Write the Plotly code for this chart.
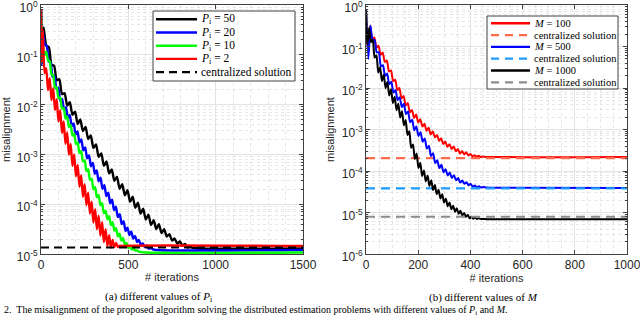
import plotly.graph_objects as go

# ---------------- data (a): different values of P_i ----------------
# iterations and log10(misalignment) read at successive peaks/troughs
p50_iter = [0, 5, 15, 30, 45, 60, 75, 90, 105, 120, 135, 150, 165, 180, 195, 210, 225, 240, 255, 270,
            285, 300, 315, 330, 345, 360, 375, 390, 405, 420, 435, 450, 465, 480, 495, 510, 525, 540,
            555, 570, 585, 600, 615, 630, 645, 660, 675, 690, 705, 720, 735, 750, 765, 780, 795, 810,
            825, 840, 855, 870, 885, 900, 1500]
p50_log = [-0.1, -1.0, -0.45, -0.81, -0.845, -1.20, -1.22, -1.515, -1.49, -1.79, -1.77, -2.02, -1.95,
           -2.205, -2.14, -2.39, -2.30, -2.53, -2.45, -2.69, -2.62, -2.87, -2.80, -3.05, -2.98, -3.23,
           -3.14, -3.38, -3.30, -3.53, -3.45, -3.69, -3.60, -3.82, -3.72, -3.95, -3.85, -4.07, -3.97,
           -4.19, -4.09, -4.31, -4.21, -4.42, -4.32, -4.50, -4.40, -4.58, -4.50, -4.65, -4.60, -4.73,
           -4.69, -4.79, -4.75, -4.83, -4.80, -4.87, -4.85, -4.88, -4.88, -4.89, -4.89]

p20_iter = [0, 4, 11, 22, 33, 44, 55, 66, 77, 88, 99, 110, 121, 132, 143, 154, 165, 176, 187, 198, 209,
            220, 231, 242, 253, 264, 275, 286, 297, 308, 319, 330, 341, 352, 363, 374, 385, 396, 407,
            418, 429, 440, 451, 462, 473, 484, 495, 506, 517, 528, 539, 550, 561, 572, 583, 594, 605,
            616, 627, 638, 660, 1500]
p20_log = [-0.1, -1.2, -0.55, -0.80, -0.825, -1.13, -1.155, -1.44, -1.42, -1.68, -1.66, -1.92, -1.89,
           -2.11, -2.05, -2.27, -2.21, -2.43, -2.38, -2.60, -2.54, -2.76, -2.70, -2.92, -2.86, -3.08,
           -3.02, -3.24, -3.17, -3.39, -3.32, -3.54, -3.47, -3.69, -3.62, -3.835, -3.77, -3.98, -3.91,
           -4.12, -4.05, -4.26, -4.20, -4.40, -4.34, -4.54, -4.47, -4.62, -4.55, -4.69, -4.64, -4.76,
           -4.72, -4.82, -4.79, -4.86, -4.83, -4.89, -4.88, -4.90, -4.92, -4.92]

p10_iter = [0, 4, 10, 20, 30, 40, 50, 60, 70, 80, 90, 100, 110, 120, 130, 140, 150, 160, 170, 180, 190,
            200, 210, 220, 230, 240, 250, 260, 270, 280, 290, 300, 310, 320, 330, 340, 350, 360, 370,
            380, 390, 400, 410, 420, 430, 440, 450, 460, 470, 480, 490, 500, 510, 520, 530, 540, 550,
            560, 600, 1500]
p10_log = [-0.1, -1.15, -0.8, -1.01, -0.94, -1.11, -1.13, -1.39, -1.41, -1.66, -1.65, -1.87, -1.86,
           -2.08, -2.07, -2.28, -2.24, -2.45, -2.41, -2.62, -2.58, -2.79, -2.76, -2.97, -2.93, -3.14,
           -3.12, -3.33, -3.30, -3.51, -3.49, -3.70, -3.66, -3.86, -3.82, -4.02, -3.98, -4.18, -4.13,
           -4.30, -4.24, -4.42, -4.36, -4.53, -4.48, -4.65, -4.59, -4.73, -4.68, -4.80, -4.78, -4.88,
           -4.85, -4.91, -4.89, -4.93, -4.93, -4.95, -4.97, -4.97]

p2_iter = [0, 3, 10, 20, 30, 40, 50, 60, 70, 80, 90, 100, 110, 120, 130, 140, 150, 160, 170, 180, 190,
           200, 210, 220, 230, 240, 250, 260, 270, 280, 290, 300, 310, 320, 330, 340, 350, 360, 370,
           380, 390, 400, 410, 420, 430, 440, 450, 1500]
p2_log = [-0.1, -1.15, -0.5, -1.37, -1.27, -1.71, -1.47, -1.91, -1.67, -2.11, -1.89, -2.34, -2.11,
          -2.57, -2.34, -2.79, -2.56, -3.01, -2.79, -3.23, -3.00, -3.44, -3.21, -3.65, -3.42, -3.85,
          -3.60, -4.02, -3.77, -4.19, -3.95, -4.37, -4.10, -4.50, -4.23, -4.63, -4.36, -4.76, -4.50,
          -4.84, -4.62, -4.87, -4.72, -4.86, -4.78, -4.86, -4.84, -4.84]

central_a_iter = [0, 1500]
central_a_val = [1.35e-5, 1.35e-5]

# ---------------- data (b): different values of M ----------------
m100_iter = [0, 5, 16, 24, 32, 40, 48, 56, 64, 72, 80, 88, 96, 104, 112, 120, 128, 136, 144, 152, 160,
             168, 176, 184, 192, 200, 208, 216, 224, 232, 240, 248, 256, 264, 272, 280, 288, 296, 304,
             312, 320, 328, 336, 344, 352, 360, 368, 376, 384, 392, 400, 408, 416, 424, 432, 440, 448,
             460, 1000]
m100_log = [-0.1, -1.0, -0.5, -0.82, -0.78, -1.03, -0.98, -1.20, -1.145, -1.37, -1.34, -1.60, -1.58,
            -1.84, -1.80, -2.05, -2.00, -2.25, -2.19, -2.42, -2.36, -2.585, -2.53, -2.72, -2.64, -2.83,
            -2.75, -2.93, -2.86, -3.03, -2.96, -3.12, -3.045, -3.19, -3.13, -3.27, -3.21, -3.35, -3.29,
            -3.42, -3.355, -3.47, -3.41, -3.525, -3.47, -3.58, -3.52, -3.60, -3.55, -3.625, -3.59,
            -3.645, -3.62, -3.655, -3.635, -3.66, -3.65, -3.66, -3.66]

m500_iter = [0, 9, 17, 25, 33, 41, 49, 57, 65, 73, 81, 89, 97, 105, 113, 121, 129, 137, 145, 153, 161,
             169, 177, 185, 193, 201, 209, 217, 225, 233, 241, 249, 257, 265, 273, 281, 289, 297, 305,
             313, 321, 329, 337, 345, 353, 361, 369, 377, 385, 393, 401, 409, 417, 425, 433, 441, 449,
             460, 500, 1000]
m500_log = [-0.1, -1.3, -0.5, -0.83, -0.84, -1.14, -1.14, -1.48, -1.45, -1.71, -1.65, -1.91, -1.85,
            -2.11, -2.05, -2.29, -2.22, -2.46, -2.38, -2.625, -2.565, -2.825, -2.765, -3.02, -2.93,
            -3.155, -3.065, -3.295, -3.215, -3.46, -3.39, -3.64, -3.57, -3.81, -3.74, -3.93, -3.85,
            -4.03, -3.955, -4.11, -4.035, -4.17, -4.10, -4.225, -4.17, -4.28, -4.23, -4.31, -4.27,
            -4.345, -4.31, -4.375, -4.35, -4.39, -4.37, -4.40, -4.385, -4.40, -4.405, -4.41]

m1000_iter = [0, 5, 12, 19, 26, 33, 40, 47, 54, 61, 68, 75, 82, 89, 96, 103, 110, 117, 124, 131, 138,
              145, 152, 159, 166, 173, 180, 187, 194, 201, 208, 215, 222, 229, 236, 243, 250, 257, 264,
              271, 278, 285, 292, 299, 306, 313, 320, 327, 334, 341, 348, 355, 362, 369, 376, 383, 390,
              397, 404, 411, 418, 425, 432, 440, 460, 1000]
m1000_log = [-0.1, -0.95, -0.55, -0.90, -0.84, -1.265, -1.21, -1.63, -1.50, -1.83, -1.68, -2.0, -1.855,
             -2.18, -2.03, -2.36, -2.21, -2.535, -2.38, -2.71, -2.56, -2.90, -2.77, -3.13, -3.04, -3.44,
             -3.36, -3.71, -3.58, -3.93, -3.80, -4.12, -3.99, -4.25, -4.11, -4.36, -4.22, -4.46, -4.34,
             -4.56, -4.45, -4.66, -4.56, -4.76, -4.67, -4.85, -4.76, -4.92, -4.84, -4.98, -4.90, -5.03,
             -4.96, -5.07, -5.01, -5.105, -5.06, -5.14, -5.10, -5.15, -5.12, -5.155, -5.14, -5.155,
             -5.16, -5.16]

central_b_iter = [0, 1000]
central_m100 = [2.05e-4, 2.05e-4]
central_m500 = [3.8e-5, 3.8e-5]
central_m1000 = [7.9e-6, 7.9e-6]

ytick_a = [1e-5, 1e-4, 1e-3, 1e-2, 1e-1, 1]
ytick_a_text = ["10<sup>-5</sup>", "10<sup>-4</sup>", "10<sup>-3</sup>", "10<sup>-2</sup>",
                "10<sup>-1</sup>", "10<sup>0</sup>"]
ytick_b = [1e-6, 1e-5, 1e-4, 1e-3, 1e-2, 1e-1, 1]
ytick_b_text = ["10<sup>-6</sup>"] + ytick_a_text

# legend entries (label, colour, dash)
legend_a_names = ["<i>P</i><sub>i</sub> = 50", "<i>P</i><sub>i</sub> = 20", "<i>P</i><sub>i</sub> = 10",
                  "<i>P</i><sub>i</sub> = 2", "centralized solution"]
legend_a_colors = ["#000000", "#0000FF", "#00FF00", "#FF0000", "#000000"]
legend_a_dash = ["solid", "solid", "solid", "solid", "dash"]
legend_b_names = ["<i>M</i> = 100", "centralized solution", "<i>M</i> = 500", "centralized solution",
                  "<i>M</i> = 1000", "centralized solution"]
legend_b_colors = ["#FF0000", "#FF6A4D", "#0000FF", "#1E9BFF", "#000000", "#8C8C8C"]
legend_b_dash = ["solid", "dash", "solid", "dash", "solid", "dash"]


def to_val(logs):
    return [10 ** v for v in logs]


fig = go.Figure()

lw_a = 2.4
series_a = [(p50_iter, p50_log, "#000000", 0.6), (p20_iter, p20_log, "#0000FF", 0.6),
            (p10_iter, p10_log, "#00FF00", 0.6), (p2_iter, p2_log, "#FF0000", 0.4)]
for (xs, ls, col, sm), nm in zip(series_a, legend_a_names):
    fig.add_trace(go.Scatter(x=xs, y=to_val(ls), mode="lines", name=nm, showlegend=False,
                             line=dict(color=col, width=lw_a, shape="spline", smoothing=sm),
                             xaxis="x", yaxis="y"))
fig.add_trace(go.Scatter(x=central_a_iter, y=central_a_val, mode="lines", name=legend_a_names[4], showlegend=False,
                         line=dict(color="#000000", width=2.2, dash="8px,5px"), xaxis="x", yaxis="y"))

lw_b = 2.0
series_b = [(m100_iter, to_val(m100_log), None), (central_b_iter, central_m100, "9px,6px"),
            (m500_iter, to_val(m500_log), None), (central_b_iter, central_m500, "9px,6px"),
            (m1000_iter, to_val(m1000_log), None), (central_b_iter, central_m1000, "9px,6px")]
for (xs, ys, dsh), nm, col in zip(series_b, legend_b_names, legend_b_colors):
    if dsh is None:
        ln = dict(color=col, width=lw_b, shape="spline", smoothing=0.6)
    else:
        ln = dict(color=col, width=2.2, dash=dsh)
    fig.add_trace(go.Scatter(x=xs, y=ys, mode="lines", name=nm, showlegend=False, line=ln,
                             xaxis="x2", yaxis="y2"))

W, H = 640, 319
x0a, x1a = 41 / W, 303 / W
x0b, x1b = 366 / W, 627 / W
y0, y1 = 1 - 254 / H, 1 - 5 / H

SANS = "Liberation Sans, Arial, sans-serif"
SERIF = "Liberation Serif, Times New Roman, serif"
tickfont = dict(family=SANS, size=12, color="#262626")
minor_y_a = [m * 10 ** k for k in range(-5, 0) for m in range(2, 10)]
minor_y_b = [m * 10 ** k for k in range(-6, 0) for m in range(2, 10)]


def xaxis_style(domain, rng, dtick, mdtick, anchor):
    return dict(domain=domain, range=rng, dtick=dtick, tick0=0, anchor=anchor, automargin=False,
                ticklabeloverflow="allow",
                showline=True, linecolor="#404040", linewidth=1, mirror="ticks",
                ticks="inside", ticklen=4, tickcolor="#404040", tickfont=tickfont,
                showgrid=True, gridcolor="#E3E3E3", gridwidth=1, zeroline=False,
                minor=dict(dtick=mdtick, tick0=0, showgrid=True, gridcolor="#D6D6D6", griddash="dot",
                           gridwidth=0.6, ticks=""),
                title=dict(text="# iterations", font=dict(family=SANS, size=11, color="#262626"),
                           standoff=1))


def yaxis_style(domain, rng, tv, tt, minor_vals, anchor):
    return dict(domain=domain, type="log", range=rng, anchor=anchor, automargin=False,
                ticklabeloverflow="allow", ticklabelshift=3,
                tickmode="array", tickvals=tv, ticktext=tt,
                showline=True, linecolor="#404040", linewidth=1, mirror="ticks",
                ticks="inside", ticklen=4, tickcolor="#404040", tickfont=tickfont,
                showgrid=True, gridcolor="#E3E3E3", gridwidth=1, zeroline=False,
                minor=dict(tickmode="array", tickvals=minor_vals, showgrid=True, gridcolor="#D6D6D6",
                           griddash="dot", gridwidth=0.6, ticks="inside", ticklen=2, tickcolor="#404040"),
                title=dict(text="misalignment", font=dict(family=SANS, size=11, color="#262626"),
                           standoff=4))


shapes = []
annotations = []


def add_legend(names, colors, dashes, box, row0, row_step, line_x, text_x, fsize, dash_pat):
    bx0, by0, bx1, by1 = box
    shapes.append(dict(type="rect", xref="paper", yref="paper", x0=bx0 / W, x1=bx1 / W,
                       y0=1 - by1 / H, y1=1 - by0 / H, line=dict(color="#404040", width=1),
                       fillcolor="white", layer="above"))
    for i, (nm, col, dsh) in enumerate(zip(names, colors, dashes)):
        yc = row0 + i * row_step
        shapes.append(dict(type="line", xref="paper", yref="paper", x0=line_x[0] / W, x1=line_x[1] / W,
                           y0=1 - yc / H, y1=1 - yc / H, layer="above",
                           line=dict(color=col, width=2.4 if dsh == "solid" else 2.2,
                                     dash="solid" if dsh == "solid" else dash_pat)))
        annotations.append(dict(text=nm, x=text_x / W, y=1 - yc / H, xref="paper", yref="paper",
                                showarrow=False, xanchor="left", yanchor="middle",
                                font=dict(family=SERIF, size=fsize, color="black")))


add_legend(legend_a_names, legend_a_colors, legend_a_dash, (153, 11, 295, 81), 19.3, 13.2,
           (156, 197), 199, 11.5, "8px,5px")
add_legend(legend_b_names, legend_b_colors, legend_b_dash, (487, 16, 618, 89), 23.3, 11.8,
           (491, 530), 532, 10.5, "8px,6px")

annotations += [
    dict(text="(a) different values of <i>P</i><sub>i</sub>", x=158 / W, y=1 - 297 / H, xref="paper", yref="paper",
         showarrow=False, xanchor="center", yanchor="middle",
         font=dict(family=SERIF, size=11, color="black")),
    dict(text="(b) different values of <i>M</i>", x=483 / W, y=1 - 297 / H, xref="paper", yref="paper",
         showarrow=False, xanchor="center", yanchor="middle",
         font=dict(family=SERIF, size=11, color="black")),
    dict(text="2.  The misalignment of the proposed algorithm solving the distributed estimation problems with different values of <i>P</i><sub>i</sub> and <i>M</i>.",
         x=2 / W, y=0.0, xref="paper", yref="paper", showarrow=False, xanchor="left", yanchor="bottom",
         font=dict(family=SERIF, size=10, color="black")),
]

fig.update_layout(
    width=W, height=H, margin=dict(l=0, r=0, t=0, b=0),
    paper_bgcolor="white", plot_bgcolor="white", showlegend=False, hovermode=False,
    xaxis=xaxis_style([x0a, x1a], [0, 1500], 500, 100, "y"),
    yaxis=yaxis_style([y0, y1], [-5, 0], ytick_a, ytick_a_text, minor_y_a, "x"),
    xaxis2=xaxis_style([x0b, x1b], [0, 1000], 200, 50, "y2"),
    yaxis2=yaxis_style([y0, y1], [-6, 0], ytick_b, ytick_b_text, minor_y_b, "x2"),
    shapes=shapes,
    annotations=annotations,
)

fig.write_html("out.html", config={"displayModeBar": False, "staticPlot": True},
               post_script="document.body.style.margin='0px';document.body.style.padding='0px';"
                           "document.body.style.overflow='hidden';")
